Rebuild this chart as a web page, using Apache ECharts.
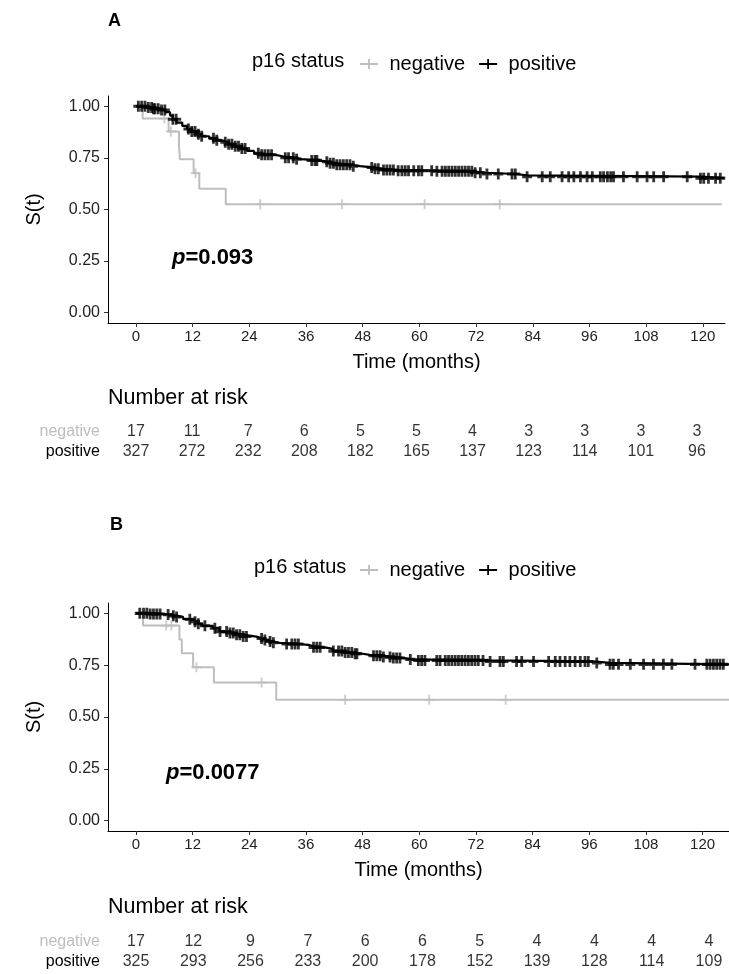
<!DOCTYPE html>
<html>
<head>
<meta charset="utf-8">
<script src="https://cdn.jsdelivr.net/npm/echarts@6/dist/echarts.min.js"></script>
<style>
html, body { margin: 0; padding: 0; background: #fff; }
#chart { width: 729px; height: 974px; }
</style>
</head>
<body>
<div id="chart"></div>
<script>
// tick labels
const timeTicks = [0, 12, 24, 36, 48, 60, 72, 84, 96, 108, 120];
const survTicks = [0, 0.25, 0.5, 0.75, 1];
const groups = ['negative', 'positive'];

// panel A - KM steps (time of drop, survival after drop), last point = end of curve
const aNegTime = [0, 1.4, 6.9, 9.1, 9.3, 12.2, 13.4, 19.0, 124];
const aNegSurv = [1, 0.941, 0.878, 0.811, 0.743, 0.676, 0.601, 0.526, 0.526];
const aNegCens = [6.0, 7.4, 12.6, 26.3, 43.6, 61.1, 77.0];

const aPosTime = [0, 2.0, 3.5, 5.0, 6.2, 7.2, 7.8, 8.6, 9.8, 10.8, 11.6, 13.0, 13.8, 15.5, 16.8, 18.2, 19.5, 21.0, 22.3, 23.5, 25.0, 26.0, 29.5, 31.0, 33.5, 35.0, 38.5, 41.0, 42.5, 45.5, 47.5, 50.0, 52.0, 55.0, 63.0, 71.5, 74.0, 80.5, 82.8, 119.5, 124.5];
const aPosSurv = [1, 0.994, 0.988, 0.982, 0.972, 0.955, 0.937, 0.921, 0.905, 0.89, 0.878, 0.865, 0.855, 0.845, 0.835, 0.826, 0.816, 0.806, 0.795, 0.784, 0.772, 0.765, 0.758, 0.751, 0.744, 0.738, 0.731, 0.724, 0.717, 0.71, 0.704, 0.697, 0.691, 0.688, 0.685, 0.678, 0.672, 0.665, 0.659, 0.652, 0.652];
const aPosCens = [0.5, 1.2, 1.9, 2.6, 3.3, 3.7, 4.0, 4.7, 5.4, 6.1, 7.8, 8.5, 11.1, 11.8, 12.5, 13.2, 13.9, 16.4, 17.1, 18.9, 19.6, 20.3, 21.0, 21.7, 22.4, 23.1, 25.9, 26.6, 27.3, 28.0, 28.7, 31.6, 32.3, 33.3, 34.0, 37.2, 37.9, 38.3, 40.4, 41.1, 41.8, 42.5, 43.2, 43.9, 44.6, 45.3, 46.0, 49.9, 50.6, 51.3, 52.4, 53.1, 53.8, 54.5, 55.5, 56.3, 57.0, 57.7, 58.8, 59.8, 60.5, 62.6, 63.7, 64.8, 65.5, 66.2, 66.9, 67.6, 68.3, 69.0, 69.7, 70.4, 71.1, 71.8, 72.9, 74.3, 76.7, 79.6, 80.3, 82.8, 86.0, 87.7, 90.2, 91.6, 92.7, 94.1, 95.5, 96.6, 98.3, 99.0, 99.8, 100.5, 101.1, 103.2, 106.1, 108.2, 109.6, 111.7, 116.7, 119.5, 120.2, 121.2, 122.7, 123.7];

// panel B
const bNegTime = [0, 1.5, 9.2, 9.7, 12.1, 16.5, 29.7, 125.6];
const bNegSurv = [1, 0.941, 0.874, 0.807, 0.740, 0.666, 0.583, 0.583];
const bNegCens = [6.4, 7.5, 12.8, 26.6, 44.3, 62.1, 78.3];

const bPosTime = [0, 3.0, 5.8, 7.5, 8.5, 10.0, 11.5, 12.4, 13.0, 14.0, 16.3, 17.7, 19.5, 21.0, 22.6, 25.5, 26.8, 27.7, 29.0, 30.4, 34.6, 36.5, 37.5, 40.0, 41.7, 44.0, 45.9, 48.0, 49.5, 52.0, 54.4, 56.5, 58.6, 74.9, 96.8, 100.4, 125.6];
const bPosSurv = [1, 0.997, 0.994, 0.988, 0.983, 0.972, 0.966, 0.96, 0.95, 0.94, 0.928, 0.912, 0.905, 0.897, 0.888, 0.879, 0.871, 0.864, 0.858, 0.852, 0.848, 0.842, 0.836, 0.829, 0.818, 0.811, 0.805, 0.8, 0.796, 0.79, 0.785, 0.778, 0.773, 0.768, 0.761, 0.754, 0.754];
const bPosCens = [0.8, 1.6, 2.3, 3.0, 3.7, 4.4, 5.1, 6.8, 7.9, 8.6, 11.4, 12.5, 13.2, 14.6, 16.7, 17.8, 19.2, 19.9, 20.6, 21.3, 22.0, 22.7, 23.4, 26.6, 27.3, 28.4, 29.1, 31.9, 33.0, 33.7, 34.4, 37.6, 38.3, 39.0, 41.8, 42.9, 43.6, 44.3, 45.0, 45.7, 46.4, 46.8, 50.3, 51.0, 51.7, 52.4, 53.8, 54.5, 55.2, 55.9, 58.1, 59.8, 60.5, 61.2, 63.7, 64.4, 65.5, 66.2, 66.9, 67.6, 68.3, 69.0, 69.7, 70.4, 71.1, 71.8, 72.5, 73.5, 75.0, 77.1, 77.8, 80.6, 81.7, 84.2, 87.4, 88.8, 89.8, 90.9, 91.9, 93.0, 94.1, 95.1, 95.8, 97.6, 100.4, 101.1, 102.2, 104.7, 107.5, 109.6, 111.7, 113.5, 118.4, 120.9, 121.6, 122.3, 123.0, 123.7, 124.4];

// number at risk at timeTicks
const aRiskNeg = [17, 11, 7, 6, 5, 5, 4, 3, 3, 3, 3];
const aRiskPos = [327, 272, 232, 208, 182, 165, 137, 123, 114, 101, 96];
const bRiskNeg = [17, 12, 9, 7, 6, 6, 5, 4, 4, 4, 4];
const bRiskPos = [325, 293, 256, 233, 200, 178, 152, 139, 128, 114, 109];

const pValA = '0.093';
const pValB = '0.0077';

const FONT = '"Liberation Sans", Arial, sans-serif';
const GREY = '#bebebe';
const plusBold = 'path://M3.6,0H6.4V3.6H10V6.4H6.4V10H3.6V6.4H0V3.6H3.6Z';
const plusThin = 'path://M4.1,0H5.9V4.1H10V5.9H5.9V10H4.1V5.9H0V4.1H4.1Z';
const legendIcon = 'path://M0,4.1H18V5.9H0Z M8.1,0H9.9V10H8.1Z';

function stepAt(times, surv, t) {
    let s = surv[0];
    for (let i = 0; i < times.length; i++) if (times[i] <= t) s = surv[i];
    return s;
}
const zip = (xs, ys) => xs.map((x, i) => [x, ys[i]]);

function kmSeries(idx, negT, negS, negC, posT, posS, posC) {
    return [
        { name: 'negative', type: 'line', step: 'end', xAxisIndex: idx, yAxisIndex: idx, symbol: 'none',
          data: zip(negT, negS), itemStyle: { color: GREY }, lineStyle: { color: GREY, width: 2 }, z: 2 },
        { name: 'negative', type: 'scatter', xAxisIndex: idx, yAxisIndex: idx, symbol: plusThin, symbolSize: [10, 10],
          data: negC.map(t => [t, stepAt(negT, negS, t)]), itemStyle: { color: GREY }, z: 3 },
        { name: 'positive', type: 'line', step: 'end', xAxisIndex: idx, yAxisIndex: idx, symbol: 'none',
          data: zip(posT, posS), itemStyle: { color: '#000' }, lineStyle: { color: '#000', width: 2.2 }, z: 4 },
        { name: 'positive', type: 'scatter', xAxisIndex: idx, yAxisIndex: idx, symbol: plusBold, symbolSize: [10, 11],
          data: posC.map(t => [t, stepAt(posT, posS, t)]), itemStyle: { color: '#000' }, z: 5 }
    ];
}

function riskSeries(idx, neg, pos) {
    const rows = [];
    timeTicks.forEach((t, i) => {
        rows.push([t, 'negative', neg[i]]);
        rows.push([t, 'positive', pos[i]]);
    });
    return {
        type: 'scatter', xAxisIndex: idx, yAxisIndex: idx, symbolSize: 1,
        itemStyle: { color: 'transparent' }, silent: true,
        label: { show: true, position: 'inside', formatter: p => p.value[2], color: '#000', fontSize: 16, fontFamily: FONT },
        data: rows
    };
}

function plotX(idx, min, max) {
    return {
        gridIndex: idx, type: 'value', min: min, max: max,
        axisLine: { onZero: false, lineStyle: { color: '#000', width: 1 } },
        axisTick: { customValues: timeTicks, length: 4, lineStyle: { color: '#333' } },
        axisLabel: { customValues: timeTicks, fontSize: 15, color: '#222', margin: 6, fontFamily: FONT },
        splitLine: { show: false },
        name: 'Time (months)', nameLocation: 'middle', nameGap: 29,
        nameTextStyle: { fontSize: 20, color: '#000', fontFamily: FONT }
    };
}
function plotY(idx) {
    return {
        gridIndex: idx, type: 'value', min: -0.05, max: 1.05,
        axisLine: { show: true, onZero: false, lineStyle: { color: '#000', width: 1 } },
        axisTick: { show: true, customValues: survTicks, length: 4, lineStyle: { color: '#333' } },
        axisLabel: { customValues: survTicks, fontSize: 16, color: '#222', margin: 8, fontFamily: FONT,
                     formatter: v => v.toFixed(2) },
        splitLine: { show: false },
        name: 'S(t)', nameLocation: 'middle', nameGap: 64, nameRotate: 90,
        nameTextStyle: { fontSize: 20, color: '#000', fontFamily: FONT }
    };
}
function riskX(idx, min, max) {
    return { gridIndex: idx, type: 'value', min: min, max: max, show: false };
}
function riskY(idx) {
    return {
        gridIndex: idx, type: 'category', data: groups, inverse: true,
        axisLine: { show: false }, axisTick: { show: false }, splitLine: { show: false },
        axisLabel: { interval: 0, fontSize: 16, margin: 8, fontFamily: FONT,
                     color: v => v === 'negative' ? GREY : '#000' }
    };
}

function legendAt(top) {
    return {
        top: top, left: 355, itemWidth: 19, itemHeight: 10, itemGap: 14, selectedMode: false,
        textStyle: { fontSize: 20, color: '#000', fontFamily: FONT, padding: [0, 0, 0, 6] },
        data: [
            { name: 'negative', icon: legendIcon, itemStyle: { color: GREY } },
            { name: 'positive', icon: legendIcon, itemStyle: { color: '#000' } }
        ]
    };
}

function txt(x, y, text, style) {
    return { type: 'text', x: x, y: y, style: Object.assign({ text: text, fontFamily: FONT, fill: '#000', verticalAlign: 'middle' }, style) };
}
function pText(x, y, val) {
    return { type: 'text', x: x, y: y, style: {
        text: '{i|p}{b|=' + val + '}', verticalAlign: 'middle',
        rich: { i: { fontStyle: 'italic', fontWeight: 'bold', fontSize: 22, fontFamily: FONT, fill: '#000' },
                b: { fontWeight: 'bold', fontSize: 22, fontFamily: FONT, fill: '#000' } } } };
}

const chart = echarts.init(document.getElementById('chart'), null, { renderer: 'canvas' });
chart.setOption({
    backgroundColor: '#fff',
    animation: false,
    textStyle: { fontFamily: FONT },
    grid: [
        { left: 108, top: 96, right: 4, height: 227 },
        { left: 108, top: 603, right: 0, height: 228 },
        { left: 108, top: 422, right: 4, height: 40 },
        { left: 108, top: 932, right: 0, height: 40 }
    ],
    xAxis: [plotX(0, -5.93, 124.7), plotX(1, -5.93, 125.6), riskX(2, -5.99, 126.0), riskX(3, -5.86, 124.2)],
    yAxis: [plotY(0), plotY(1), riskY(2), riskY(3)],
    legend: [legendAt(49), legendAt(555)],
    series: [
        ...kmSeries(0, aNegTime, aNegSurv, aNegCens, aPosTime, aPosSurv, aPosCens),
        ...kmSeries(1, bNegTime, bNegSurv, bNegCens, bPosTime, bPosSurv, bPosCens),
        riskSeries(2, aRiskNeg, aRiskPos),
        riskSeries(3, bRiskNeg, bRiskPos)
    ],
    graphic: [
        txt(108, 21, 'A', { fontSize: 18, fontWeight: 'bold' }),
        txt(110, 525, 'B', { fontSize: 18, fontWeight: 'bold' }),
        txt(252, 61, 'p16 status', { fontSize: 20 }),
        txt(254, 567, 'p16 status', { fontSize: 20 }),
        txt(108, 398, 'Number at risk', { fontSize: 21.5 }),
        txt(108, 907, 'Number at risk', { fontSize: 21.5 }),
        pText(172, 258, pValA),
        pText(166, 773, pValB)
    ]
});
</script>
</body>
</html>
